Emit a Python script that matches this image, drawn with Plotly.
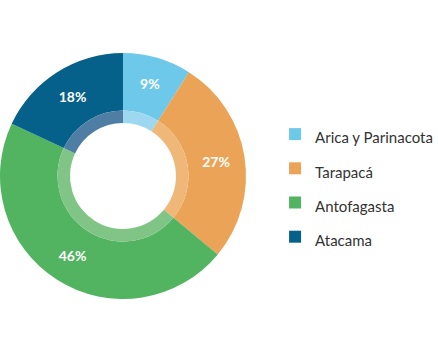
import plotly.graph_objects as go

categories = ["Arica y Parinacota", "Tarapacá", "Antofagasta", "Atacama"]
values = [9, 27, 46, 18]
colors = ["#6DC8EA", "#EBA457", "#52B461", "#06618A"]
inner_colors = ["#9DD8F0", "#EFB879", "#80C486", "#4E7EA3"]

W, H = 438, 354
cx, cy = 123, 176          # center in px (from top-left)
R_out, R_mid, R_hole = 123, 65.5, 53

def dom(r):
    ycen = H - cy
    return dict(x=[(cx - r) / W, (cx + r) / W], y=[(ycen - r) / H, (ycen + r) / H])

legend_labels = [f'<span style="font-size:15px">{c}</span>' for c in categories]

fig = go.Figure()
fig.add_trace(go.Pie(
    labels=legend_labels, values=values, sort=False, direction="clockwise",
    hole=R_mid / R_out, domain=dom(R_out),
    marker=dict(colors=colors, line=dict(width=0)),
    texttemplate="%{value}%", textposition="inside",
    insidetextorientation="horizontal",
    textfont=dict(family="Lato", size=14, color="white", weight="bold"),
    hoverinfo="label+percent", showlegend=True,
))
fig.add_trace(go.Pie(
    labels=legend_labels, values=values, sort=False, direction="clockwise",
    hole=R_hole / R_mid, domain=dom(R_mid),
    marker=dict(colors=inner_colors, line=dict(width=0)),
    textinfo="none", hoverinfo="skip", showlegend=False,
))
fig.update_layout(
    width=W, height=H, margin=dict(l=0, r=0, t=0, b=0, autoexpand=False),
    paper_bgcolor="white", plot_bgcolor="white",
    legend=dict(x=0.628, y=0.476, xanchor="left", yanchor="middle",
                font=dict(family="Lato", size=24, color="#333333"),
                itemclick=False, itemdoubleclick=False),
)
fig.write_html("out.html")
